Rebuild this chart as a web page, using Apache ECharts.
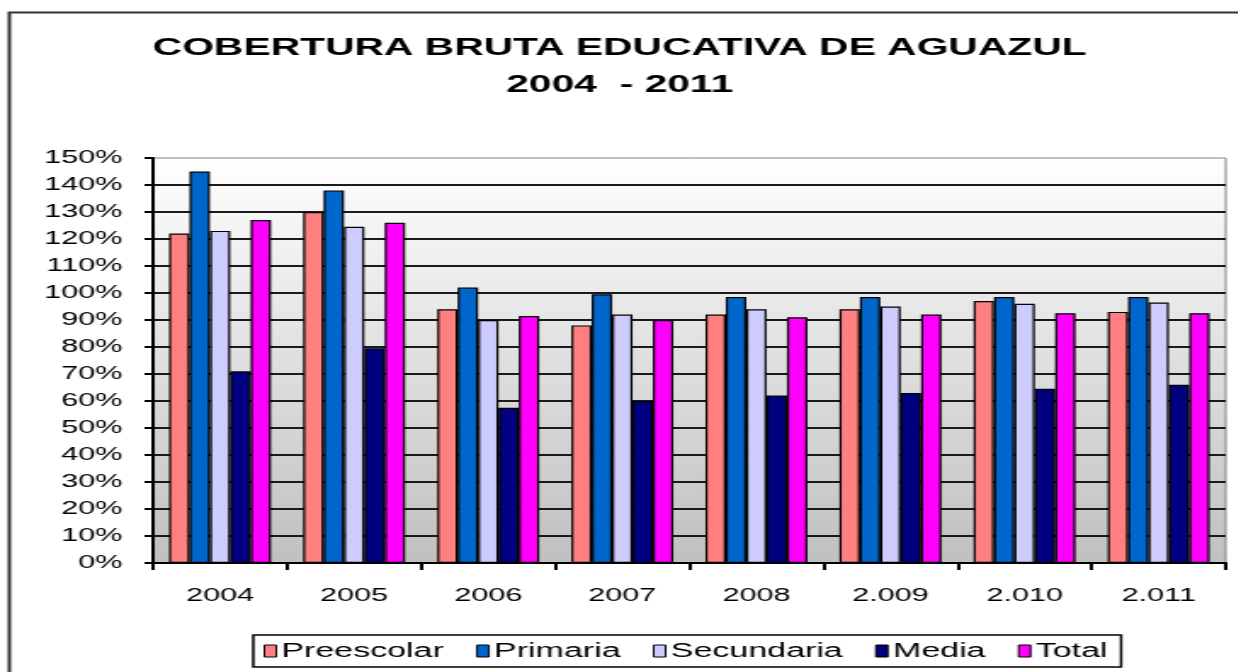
<!DOCTYPE html>
<html>
<head>
<meta charset="utf-8">
<title>Cobertura bruta educativa de Aguazul</title>
<script src="https://cdn.jsdelivr.net/npm/echarts@6.0.0/dist/echarts.min.js"></script>
<style>
  html, body { margin: 0; padding: 0; background: #fff; overflow: hidden; }
  /* the original picture is stretched sideways, so the chart is drawn narrow and widened */
  #main { width: 729px; height: 672px; transform: scaleX(1.7); transform-origin: 0 0; }
</style>
</head>
<body>
<div id="main"></div>
<script>
var years = ['2004', '2005', '2006', '2007', '2008', '2.009', '2.010', '2.011'];
var preescolar = [122, 130, 94, 88, 92, 94, 97, 93];
var primaria = [145, 138, 102, 99.5, 98.5, 98.5, 98.5, 98.5];
var secundaria = [123, 124.5, 90, 92, 94, 95, 96, 96.5];
var media = [71, 79.5, 57.5, 60, 62, 63, 64.5, 66];
var total = [127, 126, 91.5, 90, 91, 92, 92.5, 92.5];

var seriesNames = ['Preescolar', 'Primaria', 'Secundaria', 'Media', 'Total'];
var seriesColors = ['#ff8080', '#0066cc', '#ccccff', '#000080', '#ff00ff'];
var seriesData = [preescolar, primaria, secundaria, media, total];

var font = "'Liberation Sans', Arial, sans-serif";

var myChart = echarts.init(document.getElementById('main'));

var series = seriesNames.map(function (name, i) {
  return {
    name: name,
    type: 'bar',
    data: seriesData[i],
    barGap: '0%',
    barCategoryGap: '24%',
    itemStyle: {
      color: seriesColors[i],
      borderColor: '#000',
      borderWidth: 1.2
    }
  };
});

var option = {
  animation: false,
  backgroundColor: '#fff',
  color: seriesColors,
  title: {
    text: 'COBERTURA BRUTA EDUCATIVA DE AGUAZUL\n2004  - 2011',
    left: 'center',
    top: 30,
    padding: 0,
    textStyle: {
      fontFamily: font,
      fontWeight: 'bold',
      fontSize: 24,
      lineHeight: 37,
      color: '#000'
    }
  },
  graphic: [
    {
      // outer frame of the picture
      type: 'rect',
      left: 3,
      top: 10,
      shape: { width: 800, height: 720 },
      style: { fill: 'none', stroke: '#333', lineWidth: 2 },
      silent: true
    }
  ],
  legend: {
    data: seriesNames,
    left: 149,
    top: 635,
    padding: [6, 8, 6, 6],
    itemWidth: 7,
    itemHeight: 12,
    itemGap: 19,
    borderColor: '#000',
    borderWidth: 1.5,
    backgroundColor: '#fff',
    icon: 'rect',
    itemStyle: { borderColor: '#000', borderWidth: 1 },
    textStyle: { fontFamily: font, fontSize: 20, color: '#000', padding: [0, 0, 0, -2] }
  },
  grid: {
    left: 90,
    right: 8,
    top: 158,
    bottom: 109,
    show: true,
    borderColor: '#808080',
    borderWidth: 1,
    backgroundColor: new echarts.graphic.LinearGradient(0, 0, 0, 1, [
      { offset: 0, color: '#ffffff' },
      { offset: 1, color: '#c0c0c0' }
    ])
  },
  xAxis: {
    type: 'category',
    data: years,
    axisLine: { lineStyle: { color: '#000', width: 2 } },
    axisTick: { show: true, length: 7, lineStyle: { color: '#000', width: 2 } },
    axisLabel: { margin: 24, fontFamily: font, fontSize: 18, color: '#000' }
  },
  yAxis: {
    type: 'value',
    min: 0,
    max: 150,
    interval: 10,
    axisLine: { show: true, lineStyle: { color: '#000', width: 2 } },
    axisTick: { show: true, length: 5, lineStyle: { color: '#000', width: 2 } },
    axisLabel: { margin: 18, fontFamily: font, fontSize: 18, color: '#000', formatter: '{value}%' },
    splitLine: { show: true, showMaxLine: false, lineStyle: { color: '#1a1a1a', width: 2 } }
  },
  series: series
};

myChart.setOption(option);
</script>
</body>
</html>
